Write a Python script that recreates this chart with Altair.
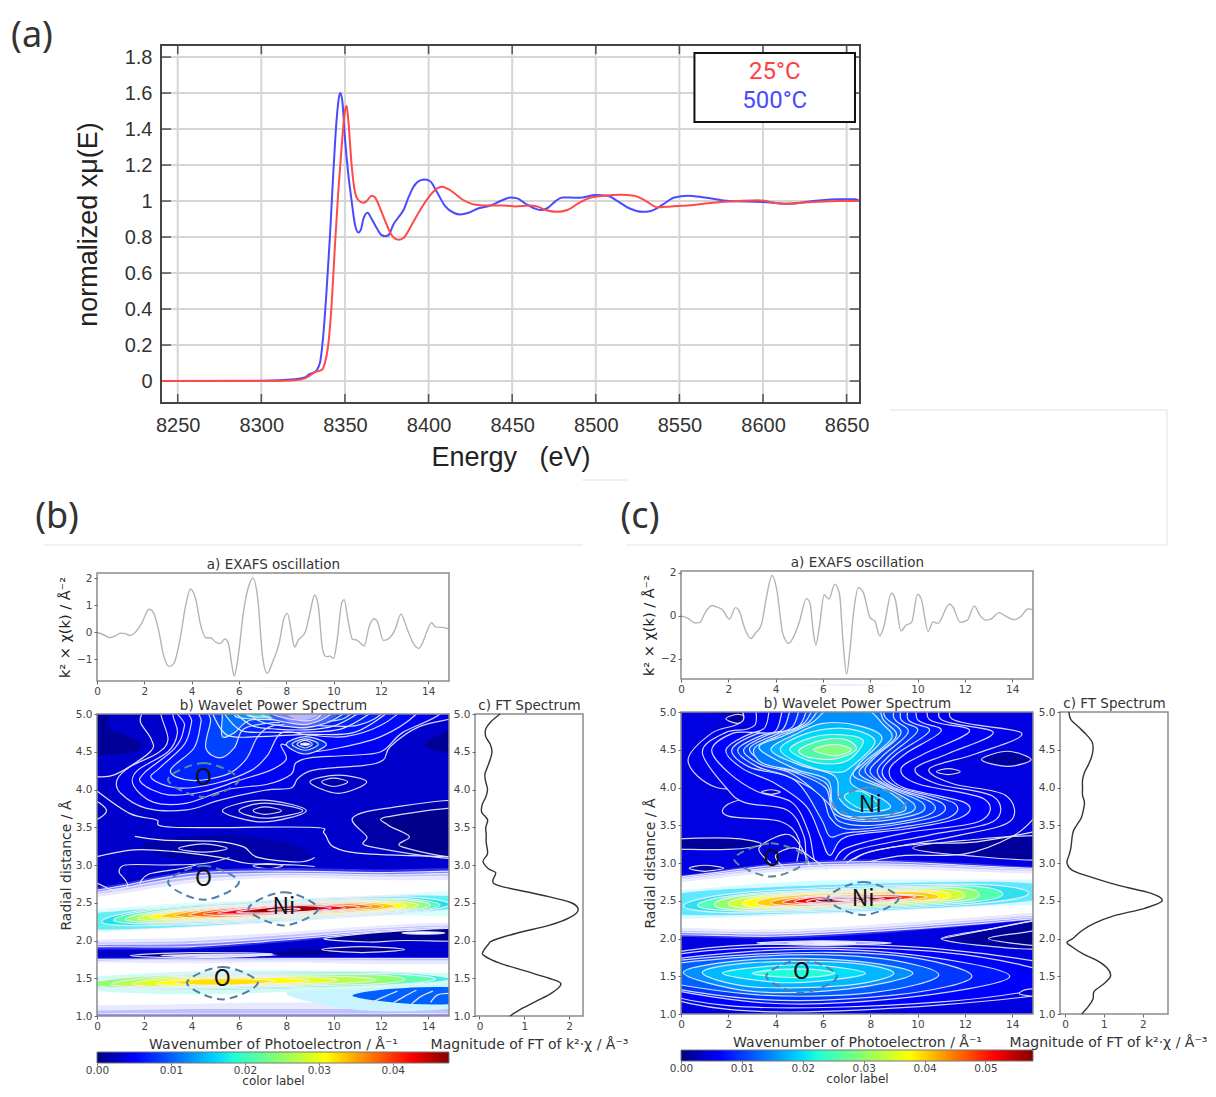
import altair as alt
import pandas as pd

W, H = 1200, 1081

# ---------- panel (a) ----------
BLUE_E = [8240,8300,8320,8326,8329,8332,8335,8337,8339,8341,8343,8345,8346.5,8347.2,8348.5,8350,8352,8354,8356,8358,8359.5,8361,8363.5,8366,8369,8372,8374,8376,8379,8382,8385,8388,8391,8395,8398,8401,8405,8410,8415,8419,8424,8430,8437,8443,8449,8453,8458,8463,8467,8471,8476,8480,8485,8490,8500,8507,8513,8520,8528,8533,8540,8547,8555,8565,8580,8600,8615,8630,8645,8655,8658]
BLUE_V = [0,0.002,0.01,0.02,0.04,0.05,0.1,0.25,0.5,0.8,1.15,1.45,1.58,1.6,1.55,1.35,1.15,1.0,0.87,0.825,0.84,0.9,0.935,0.9,0.85,0.81,0.805,0.81,0.87,0.91,0.95,1.02,1.08,1.115,1.12,1.11,1.05,0.97,0.935,0.925,0.935,0.96,0.975,1.0,1.02,1.015,0.985,0.96,0.95,0.96,1.0,1.02,1.02,1.018,1.033,1.03,1.0,0.96,0.94,0.945,0.98,1.02,1.03,1.02,1.0,0.995,0.985,1.0,1.01,1.01,1.0]
RED_E = [8240,8300,8320,8326,8329,8332,8336,8338,8340,8342,8344,8346,8348,8350,8351,8352,8354,8356,8358,8361,8363,8366,8368,8371,8374,8378,8382,8385,8390,8395,8400,8405,8408,8413,8420,8428,8436,8445,8452,8460,8465,8470,8477,8483,8490,8497,8505,8515,8523,8530,8537,8545,8555,8570,8585,8597,8612,8630,8645,8658]
RED_V = [0,0,0.005,0.015,0.03,0.05,0.06,0.1,0.2,0.42,0.75,1.05,1.3,1.5,1.53,1.45,1.2,1.05,1.005,0.99,1.0,1.03,1.02,0.96,0.89,0.81,0.785,0.795,0.87,0.95,1.02,1.07,1.08,1.06,1.01,0.98,0.975,0.975,0.97,0.975,0.97,0.95,0.94,0.95,0.99,1.02,1.03,1.035,1.03,1.0,0.965,0.97,0.975,0.99,1.0,1.005,0.985,0.995,1.0,1.0]
A_XT = [8250,8300,8350,8400,8450,8500,8550,8600,8650]
A_YT = [0,0.2,0.4,0.6,0.8,1,1.2,1.4,1.6,1.8]

# ---------- EXAFS ----------
EX_B_K = [0,0.3,0.55,0.8,1.0,1.2,1.4,1.6,1.9,2.2,2.35,2.6,2.8,3.05,3.25,3.5,3.75,3.95,4.15,4.4,4.6,4.8,5.0,5.2,5.4,5.55,5.7,5.8,5.95,6.2,6.45,6.6,6.8,7.0,7.2,7.4,7.7,7.9,8.05,8.2,8.35,8.5,8.8,9.0,9.2,9.35,9.55,9.7,9.85,10,10.15,10.35,10.45,10.6,10.8,11,11.3,11.5,11.7,11.85,12.1,12.3,12.6,12.85,13.1,13.4,13.6,13.85,14,14.15,14.3,14.6,14.88]
EX_B_V = [0,-0.1,-0.2,-0.12,-0.03,-0.05,-0.12,-0.02,0.35,0.85,0.78,0.1,-0.8,-1.27,-1.15,-0.3,1.0,1.6,1.3,0.2,-0.2,-0.2,-0.35,-0.42,-0.25,-0.4,-1.2,-1.62,-1.0,0.8,1.8,2.0,1.2,-0.9,-1.52,-1.15,-0.4,0.5,0.7,0.1,-0.55,-0.3,0,0.7,1.38,1.0,-0.7,-0.9,-0.88,-0.97,-0.3,1.1,1.2,0.5,-0.25,-0.3,-0.5,0.2,0.5,0.4,-0.3,-0.25,0.1,0.67,0.15,-0.45,-0.6,-0.2,0.15,0.35,0.2,0.18,0.12]
EX_C_K = [0,0.3,0.6,0.8,1.0,1.3,1.5,1.75,2.05,2.3,2.45,2.7,2.95,3.15,3.4,3.6,3.85,4.05,4.3,4.55,4.75,5.0,5.3,5.45,5.6,5.7,5.85,6.05,6.25,6.5,6.7,6.85,7.0,7.15,7.3,7.5,7.7,8.0,8.2,8.4,8.55,8.9,9.05,9.3,9.5,9.75,10.0,10.15,10.45,10.65,10.85,11.35,11.5,11.8,12.1,12.4,12.65,12.9,13.1,13.45,13.7,14.1,14.4,14.65,14.88]
EX_C_V = [0,-0.12,-0.33,-0.3,0.1,0.48,0.42,0.28,-0.15,0.38,0.25,-0.6,-1.05,-0.8,-0.4,0.8,1.87,1.2,-0.8,-1.27,-1.0,-0.3,0.8,0.6,-0.8,-1.35,-0.5,0.98,0.78,1.47,1.0,-1.2,-2.7,-1.5,0.2,1.3,1.1,-0.1,-0.25,-0.93,-0.6,1.05,0.8,-0.7,-0.45,-0.3,1.0,0.8,-0.72,-0.28,-0.35,0.55,0.4,-0.3,-0.2,0.45,0,-0.2,-0.15,0.15,0,-0.18,0,0.32,0.3]

# ---------- FT ----------
FT_B_R = [1.0,1.1,1.2,1.3,1.4,1.45,1.5,1.6,1.7,1.8,1.85,1.95,2.0,2.1,2.2,2.3,2.4,2.5,2.6,2.7,2.75,2.8,2.9,2.95,3.05,3.15,3.3,3.4,3.5,3.6,3.7,3.8,3.9,4.0,4.1,4.2,4.3,4.4,4.5,4.6,4.7,4.8,4.9,5.0]
FT_B_M = [0.68,0.95,1.28,1.6,1.8,1.78,1.55,1.0,0.45,0.1,0.08,0.2,0.3,0.85,1.55,2.0,2.2,2.05,1.4,0.6,0.33,0.3,0.36,0.2,0.08,0.18,0.15,0.15,0.14,0.18,0.05,0.06,0.14,0.18,0.14,0.12,0.18,0.24,0.28,0.24,0.14,0.14,0.26,0.46]
FT_C_R = [1.0,1.1,1.2,1.3,1.4,1.5,1.6,1.7,1.8,1.9,1.95,2.0,2.1,2.2,2.3,2.4,2.5,2.6,2.7,2.8,2.9,3.0,3.1,3.2,3.4,3.5,3.6,3.7,3.8,3.9,4.0,4.1,4.2,4.3,4.4,4.5,4.6,4.7,4.8,4.9,5.0]
FT_C_M = [0.43,0.6,0.72,0.75,1.0,1.17,1.1,0.85,0.45,0.15,0.05,0.2,0.42,0.75,1.25,2.05,2.5,2.2,1.4,0.75,0.2,0.05,0.1,0.15,0.2,0.3,0.42,0.47,0.5,0.45,0.45,0.45,0.5,0.6,0.68,0.72,0.7,0.55,0.35,0.15,0.1]

JET = [(0,"#000080"),(0.11,"#0000ff"),(0.34,"#00d8ff"),(0.39,"#20ffd8"),(0.5,"#7cff7a"),(0.65,"#ffff00"),(0.89,"#ff0000"),(1,"#800000")]

W_ = "#eeeeff"
N_ = "transparent"

# wide bands: fill, stroke, upper edge, lower edge on the wavenumbers of BAND_K
BAND_K = [-2.8, 0, 4, 8, 12, 15, 18]
B_BANDS = [
 ("#3030f0",N_,[1.78,1.77,1.77,1.78,1.78,1.78,1.78],[0.9,0.9,0.9,0.9,0.9,0.9,0.9]),
 ("#8080ff",W_,[1.76,1.75,1.755,1.76,1.76,1.76,1.76],[0.92,0.95,0.95,0.95,0.95,0.95,0.95]),
 ("#c0c0ff",W_,[1.74,1.73,1.74,1.745,1.74,1.74,1.74],[1.0,1.03,1.03,1.03,1.03,1.03,1.0]),
 ("#e8e8ff",W_,[1.72,1.72,1.72,1.73,1.72,1.72,1.72],[1.06,1.08,1.1,1.1,1.1,1.1,1.1]),
 ("#ffffff",N_,[1.71,1.71,1.70,1.71,1.69,1.69,1.69],[1.12,1.14,1.16,1.18,1.15,1.15,1.15]),
 ("#3030f0",N_,[2.66,2.7,2.92,2.96,2.94,2.96,2.96],[1.88,1.88,1.89,1.98,2.1,2.14,2.14]),
 ("#8080ff",W_,[2.64,2.67,2.89,2.92,2.9,2.92,2.92],[1.92,1.92,1.92,2.01,2.12,2.16,2.16]),
 ("#c0c0ff",W_,[2.62,2.64,2.85,2.89,2.87,2.89,2.89],[1.94,1.95,1.96,2.04,2.14,2.18,2.18]),
 ("#e8e8ff",W_,[2.6,2.61,2.8,2.86,2.84,2.85,2.85],[1.96,1.98,2.0,2.08,2.17,2.21,2.21]),
 ("#ffffff",N_,[2.58,2.58,2.76,2.83,2.8,2.8,2.8],[1.98,2.01,2.04,2.11,2.2,2.24,2.24]),
 ("#d8fff8",N_,[2.42,2.42,2.5,2.54,2.6,2.66,2.66],[2.1,2.11,2.2,2.3,2.33,2.32,2.32]),
]
C_BANDS = [
 ("#3030f0",N_,[2.8,2.84,3.0,3.05,3.0,2.95,2.95],[2.02,2.02,2.0,2.06,2.16,2.24,2.24]),
 ("#8080ff",W_,[2.78,2.82,2.97,3.02,2.97,2.93,2.93],[2.05,2.05,2.03,2.09,2.18,2.26,2.26]),
 ("#c0c0ff",W_,[2.76,2.8,2.94,2.99,2.95,2.91,2.91],[2.08,2.08,2.06,2.12,2.21,2.28,2.28]),
 ("#e8e8ff",W_,[2.74,2.78,2.91,2.96,2.92,2.89,2.89],[2.11,2.11,2.09,2.15,2.24,2.31,2.31]),
 ("#ffffff",N_,[2.72,2.75,2.88,2.93,2.89,2.86,2.86],[2.14,2.14,2.12,2.18,2.27,2.34,2.34]),
 ("#d0ffff",N_,[2.6,2.64,2.74,2.78,2.78,2.78,2.78],[2.26,2.26,2.3,2.35,2.42,2.44,2.44]),
]

# ---------- wavelet contours: lens = fill, stroke, kL,rL, k1,top1,bot1, k2,top2,bot2, kR,rR
B_LENS = [
 ("#c8f4ff",N_,8,1.3, 11,1.44,1.08, 15,1.48,1.1, 18,1.3),
 ("#0060ff",N_,10.8,1.27, 12.5,1.36,1.18, 15,1.38,1.16, 18,1.28),
 ("#c8fff0",N_,-2.5,1.42, 3,1.58,1.29, 11,1.6,1.36, 18,1.5),
 ("#40f0e0",W_,-2,1.41, 4,1.56,1.34, 12,1.58,1.4, 14.95,1.49),
 ("#60ffb0",W_,-1,1.41, 3,1.545,1.355, 11.5,1.565,1.4, 14.3,1.49),
 ("#90ff70",W_,-0.3,1.42, 2.5,1.53,1.37, 11,1.55,1.415, 13,1.485),
 ("#b8ff48",W_,0.6,1.42, 3,1.52,1.38, 9.5,1.53,1.42, 11.8,1.48),
 ("#e0ff20",W_,1.5,1.425, 3.5,1.51,1.385, 8.5,1.52,1.425, 10.2,1.47),
 ("#ffff00",W_,2.5,1.43, 4,1.50,1.395, 7.5,1.51,1.425, 9,1.465),
 ("#ffe000",W_,3.3,1.44, 4.4,1.49,1.41, 6.4,1.49,1.42, 7.5,1.46),
 ("#60f0f0",W_,-2,2.25, 1,2.4,2.14, 13,2.6,2.36, 17,2.5),
 ("#20e0f0",W_,0.2,2.25, 3,2.44,2.20, 12,2.58,2.34, 14.9,2.48),
 ("#50ffb0",W_,0.7,2.27, 3.4,2.44,2.22, 11.8,2.56,2.35, 14.5,2.47),
 ("#90ff70",W_,1.2,2.28, 3.8,2.43,2.24, 11.5,2.55,2.35, 14.1,2.47),
 ("#d0ff30",W_,1.7,2.29, 4.2,2.43,2.26, 11.2,2.53,2.36, 13.6,2.465),
 ("#ffff00",W_,2.2,2.31, 4.6,2.43,2.27, 10.8,2.52,2.36, 13.1,2.46),
 ("#ffd000",W_,2.7,2.32, 4.8,2.43,2.29, 10.5,2.51,2.37, 12.6,2.455),
 ("#ffa000",W_,3.3,2.33, 5.2,2.43,2.30, 10.2,2.50,2.38, 12.1,2.45),
 ("#ff7000",W_,3.9,2.34, 5.6,2.43,2.31, 9.9,2.49,2.39, 11.6,2.45),
 ("#ff4000",W_,4.5,2.35, 6.5,2.44,2.33, 9,2.48,2.37, 11.1,2.445),
 ("#ff0000",W_,5.1,2.36, 6.8,2.44,2.35, 9,2.47,2.38, 10.5,2.435),
 ("#d00000",W_,5.9,2.375, 7.2,2.435,2.365, 8.8,2.46,2.385, 9.9,2.43),
 ("#a00000",N_,6.6,2.39, 7.5,2.43,2.38, 8.6,2.45,2.39, 9.4,2.42),
 ("#7a0000",W_,7.2,2.40, 7.8,2.42,2.39, 8.2,2.43,2.40, 8.6,2.415),
]
C_LENS = [
 ("#0000e8",W_,-2.8,1.55, 2,1.9,1.06, 11,1.86,1.12, 18,1.45),
 ("#0000ff",W_,-2.8,1.55, 2,1.86,1.11, 11,1.82,1.16, 16,1.45),
 ("#0018ff",W_,-2.8,1.55, 3,1.83,1.16, 9,1.81,1.2, 13.9,1.5),
 ("#0038ff",W_,-2.8,1.55, 3,1.79,1.2, 9,1.78,1.25, 12.3,1.5),
 ("#0060ff",W_,-2,1.55, 3,1.76,1.26, 8,1.75,1.28, 10.9,1.52),
 ("#0090ff",W_,0.1,1.55, 3,1.72,1.3, 7,1.71,1.33, 9.8,1.54),
 ("#00b8ff",W_,0.9,1.55, 3,1.68,1.36, 7,1.68,1.38, 9,1.54),
 ("#00e0f8",W_,1.75,1.54, 4,1.64,1.42, 6,1.64,1.44, 7.8,1.54),
 ("#20ffd8",W_,3,1.54, 4.2,1.59,1.49, 5.6,1.59,1.49, 6.5,1.54),
 ("#60e8ff",W_,-1.2,2.43, 1,2.64,2.3, 13,2.76,2.44, 16,2.62),
 ("#30e0f0",W_,0.1,2.43, 3,2.62,2.34, 12,2.72,2.45, 14.7,2.6),
 ("#50ffb0",W_,0.7,2.44, 3.2,2.6,2.36, 11.5,2.7,2.46, 13.6,2.59),
 ("#90ff70",W_,1.4,2.45, 3.4,2.59,2.37, 11,2.68,2.47, 12.6,2.58),
 ("#d0ff30",W_,2,2.46, 3.8,2.58,2.39, 10.5,2.66,2.48, 12,2.57),
 ("#ffff00",W_,2.6,2.46, 4,2.57,2.41, 10,2.64,2.49, 11.4,2.56),
 ("#ffd000",W_,3.2,2.47, 4.5,2.565,2.42, 9.6,2.62,2.49, 10.9,2.55),
 ("#ff9000",W_,3.8,2.475, 5,2.55,2.43, 8.5,2.59,2.48, 10.4,2.55),
 ("#ff4000",W_,4.3,2.48, 5.5,2.55,2.45, 8.5,2.58,2.49, 9.9,2.55),
 ("#ff0000",W_,4.8,2.49, 5.8,2.55,2.46, 8,2.56,2.49, 9.3,2.54),
 ("#c00000",W_,5.3,2.49, 6.1,2.54,2.47, 7.8,2.55,2.5, 8.6,2.53),
 ("#8a0000",W_,5.7,2.50, 6.4,2.53,2.48, 7.4,2.54,2.50, 8,2.52),
 ("#ff9090",W_,6.4,2.51, 6.8,2.52,2.505, 7.1,2.525,2.505, 7.5,2.515),
]

# closed loops drawn before the lenses: fill, stroke, k list, r list
B_BACK = [
 ("#000098",N_,[-1,.35,.5,1.2,1.9,1.6,.5,-1],[5.2,5.2,4.82,4.72,4.6,4.5,4.46,4.45]),
 ("#000098",N_,[16,14.9,13.9,14.2,16],[4.8,4.78,4.62,4.52,4.46]),
 ("#0000a8",W_,[16,12.2,10.8,11.4,11.6,16],[3.82,3.75,3.62,3.38,3.24,3.11]),
 ("#00008c",W_,[16,12.3,12.3,13.2,12.9,16],[3.73,3.64,3.53,3.38,3.24,3.11]),
 ("#0000a8",N_,[2,5,8,9,6,3],[3.3,3.4,3.3,3.1,3.05,3.1]),
 ("#0000e4",W_,[2.7,2.7,3.0,2.55,1.4,.85,1.0,2.1,3.8,5.2,7.1,8.2,8.5,9.2,11.3,12.1,12.4,13.6,15.5,15.5],[5.3,5.0,4.66,4.48,4.3,4.13,3.95,3.75,3.73,3.86,3.99,4.02,4.15,4.26,4.32,4.39,4.57,4.83,5.0,5.3]),
 ("#0000f5",W_,[3.2,3.2,3.4,3.0,1.7,1.55,2.4,3.8,5.5,7.2,8.2,8.4,9,10.5,12,12.9,14.5,15],[5.3,5.0,4.75,4.5,4.25,4.05,3.83,3.82,4.0,4.07,4.2,4.35,4.42,4.45,4.5,4.75,5,5.3]),
 ("#0008ff",W_,[3.8,3.7,3.3,2.0,1.9,3.0,4.5,6,7.3,8.0,7.8,8.8,10.2,12,13.5,14],[5.3,4.85,4.55,4.22,4.08,3.93,3.97,4.12,4.25,4.4,4.6,4.5,4.55,4.7,5,5.3]),
 ("#0014ff",W_,[4.2,4,3.7,2.7,2.3,3.4,5,6.5,7.2,7.8,9,10.5,12,13,13],[5.3,4.9,4.6,4.3,4.15,4.02,4.08,4.25,4.45,4.75,4.72,4.7,4.85,5.1,5.3]),
 ("#0024ff",W_,[4.6,4.4,4.1,3.1,4,5.5,6.3,6.8,7.5,9,11,12.2,12.2],[5.3,4.9,4.55,4.25,4.12,4.2,4.4,4.7,4.85,4.85,4.85,5.05,5.3]),
 ("#0044ff",W_,[5,4.8,4.6,5.2,5.8,6.2,7.3,9,10.5,11],[5.3,4.9,4.55,4.42,4.55,4.8,4.88,4.9,4.95,5.3]),
 ("#0070ff",W_,[5.5,5.3,5.3,5.8,6.5,8,9.5,10],[5.3,4.95,4.7,4.75,4.92,4.92,5,5.3]),
 ("#0098ff",W_,[6,5.8,6.3,7.5,8.5,9],[5.3,5,4.94,4.93,4.96,5.3]),
 ("#20d8ff",W_,[6.3,6.3,7.2,8.2,8.5],[5.3,5.0,4.96,5.0,5.3]),
 ("#4060ff",N_,[7.2,8.7,10.2,9,8.2],[5.02,4.8,5.02,5.3,5.3]),
 ("#8088ff",N_,[7.6,8.7,9.8,9,8.2],[5.02,4.86,5.02,5.3,5.3]),
 ("#b8b8ff",N_,[8,8.7,9.4,9,8.3],[5.02,4.92,5.02,5.3,5.3]),
 ("#0034f0",W_,[8.0,8.8,9.7,8.8],[4.6,4.7,4.6,4.47]),
 ("#0028e0",W_,[8.25,8.8,9.35,8.8],[4.6,4.67,4.6,4.52]),
 ("#0020d8",W_,[8.45,8.8,9.1,8.8],[4.6,4.65,4.6,4.55]),
 ("#ffffff",W_,[8.6,8.8,9.0,8.8],[4.6,4.615,4.6,4.585]),
 ("#0000c4",W_,[9,10.2,11.4,10.2],[4.1,4.19,4.1,3.95]),
 ("#0000a8",W_,[9.5,10,10.6,10],[4.1,4.15,4.1,4.04]),
 ("#0000c4",W_,[5.3,7,8.85,7],[3.72,3.86,3.72,3.57]),
 ("#0000b4",W_,[6,7.1,8.7,7.1],[3.72,3.82,3.72,3.62]),
 ("#0000a0",W_,[6.6,7.1,7.8,7.1],[3.72,3.77,3.72,3.67]),
 ("#0000a0",W_,[3.45,4.5,5.5,4.5],[3.22,3.28,3.22,3.17]),
 ("#0000a0",W_,[6.6,7.2,7.85,7.2],[2.99,3.02,2.99,2.95]),
 ("#0000c0",W_,[-.5,-.1,.4,-.1],[3.75,3.85,3.72,3.6]),
]
B_FRONT = [
 ("#000090",W_,[1.4,4,7.6,4],[1.8,1.84,1.82,1.77]),
 ("#d8d8ff",W_,[2.7,5,7.6,5],[1.8,1.815,1.81,1.78]),
 ("#000090",N_,[7.4,8.5,10.4,8.5],[1.82,1.88,1.84,1.8]),
 ("#000090",W_,[9.5,11.2,13,11.2],[1.88,1.92,1.88,1.84]),
 ("#000090",W_,[9.6,11,13,16,16,13,11.5],[2.02,2.08,2.13,2.16,2.0,2.0,1.98]),
 ("#ffffff",W_,[12.9,13.8,14.7,13.8],[2.1,2.115,2.1,2.085]),
]
C_BACK = [
 ("#00009c",N_,[-1,1,3,4,-1],[5.2,5.0,5.0,5.3,5.3]),
 ("#00009c",W_,[1.9,2.4,2.9,2.4],[4.91,4.97,4.91,4.85]),
 ("#0000a0",W_,[12.7,13.8,14.8,13.8],[4.37,4.48,4.37,4.28]),
 ("#0000e8",W_,[.3,1.3,2.6,3.2,10.9,11.5,14.4,12.5,10.5,11.5,13.7,13.9,11.5,8,6.8,5,5,4.2,2,2,3.8,1.5],[4.35,4.72,4.88,5.3,5.3,4.9,4.72,4.45,4.25,4.05,3.9,3.55,3.35,3.15,2.95,2.9,3.3,3.55,3.62,3.78,3.98,4.0]),
 ("#0000f4",W_,[.9,1.9,3.1,3.9,10.5,11,13.2,11.3,9.9,10.8,13.2,13.2,10.5,7.5,6.6,5.4,5.2,4.5,2.7,1.9],[4.47,4.73,4.82,5.3,5.3,4.9,4.73,4.45,4.25,4.05,3.88,3.55,3.37,3.18,2.98,2.95,3.35,3.7,3.8,4.0]),
 ("#0000ff",W_,[1.3,2.2,3.5,4.5,10,10.5,12.2,10.3,9.3,10,12.8,12.6,9.5,7,6.4,5.7,5.4,4.7,3.2,2],[4.5,4.72,4.78,5.3,5.3,4.9,4.75,4.45,4.25,4.05,3.85,3.55,3.4,3.2,3.0,3.0,3.4,3.8,3.95,4.2]),
 ("#0018ff",W_,[1.9,3,4,5,9.5,10,11,9.5,8.8,9.4,12,11.8,9.5,7,6.3,5.9,5.3,4,2.6],[4.5,4.72,4.75,5.3,5.3,4.9,4.75,4.45,4.22,4.0,3.8,3.6,3.45,3.35,3.1,3.35,3.75,4.05,4.25]),
 ("#0028ff",W_,[2.15,3.2,4.3,5.3,9.3,9.6,10.5,9.1,8.5,9.2,11.5,11.3,9,7,6.3,5.9,4.8,2.9],[4.5,4.71,4.77,5.3,5.3,4.9,4.75,4.44,4.2,4.0,3.8,3.6,3.46,3.4,3.35,3.6,4.1,4.27]),
 ("#0038ff",W_,[2.4,3.5,4.7,5.6,9,9.3,10,8.8,8.3,9,11,10.8,8.5,7,6.3,5.9,4.5,3.2],[4.5,4.7,4.8,5.3,5.3,4.9,4.75,4.42,4.2,4.0,3.8,3.62,3.48,3.45,3.6,3.9,4.15,4.28]),
 ("#0048ff",W_,[2.65,3.7,5,5.9,8.8,9,9.6,8.5,8,8.9,10.6,10.4,8.2,6.7,6.2,4.7,3.4],[4.5,4.7,4.82,5.3,5.3,4.92,4.73,4.41,4.2,4.0,3.8,3.63,3.5,3.55,3.8,4.18,4.3]),
 ("#0060ff",W_,[2.9,4,5.2,6.2,8.5,8.6,9.3,8.2,7.8,8.8,10.2,10,8,6.5,6.1,4.8,3.6],[4.52,4.7,4.85,5.3,5.3,4.95,4.72,4.4,4.2,4.0,3.8,3.65,3.55,3.65,4.0,4.2,4.32]),
 ("#0078ff",W_,[3.1,4.15,5.35,6.35,8.1,8.55,9.1,8,7.55,8.7,9.85,9.5,7.5,6.45,6.15,4.8,3.45],[4.52,4.69,4.85,5.2,5.2,4.9,4.68,4.37,4.17,3.99,3.78,3.65,3.58,3.72,4.05,4.22,4.32]),
 ("#0090ff",W_,[3.3,4.3,5.5,6.5,7.8,8.5,8.9,7.8,7.3,8.6,9.5,9,7,6.4,6.2,4.8],[4.52,4.68,4.85,5.1,5.05,4.85,4.65,4.35,4.15,3.98,3.75,3.65,3.62,3.8,4.1,4.25]),
 ("#00b8ff",W_,[3.8,4.8,6,7.5,8.5,7.5,7.2,8.5,8.8,7.5,6.7,6.5,5],[4.5,4.7,4.85,4.82,4.65,4.3,4.05,3.85,3.72,3.68,3.85,4.15,4.3]),
 ("#00d8f8",W_,[4.2,5,6.3,7.5,8.2,7.3,6.6,5.2],[4.5,4.68,4.78,4.75,4.6,4.3,4.2,4.3]),
 ("#00d0f8",W_,[6.9,7.6,8.4,7.6],[3.88,3.95,3.76,3.72]),
 ("#20f0d8",W_,[4.6,5.5,6.7,7.7,7,5.7],[4.5,4.66,4.7,4.62,4.35,4.33]),
 ("#50f8a8",W_,[5,6,7,7.4,6.5,5.4],[4.5,4.63,4.63,4.5,4.38,4.4]),
 ("#80ff80",W_,[5.6,6.5,7.2,6.5],[4.5,4.57,4.5,4.42]),
 ("#0000c8",W_,[10.8,11.3,11.8,11.3],[4.21,4.25,4.21,4.17]),
 ("#0000c8",W_,[3.4,3.8,4.2,3.8],[3.94,3.97,3.94,3.91]),
 ("#00009c",W_,[-1,2,3.4,2,-1],[3.3,3.33,3.25,3.18,3.2]),
 ("#00009c",W_,[9.8,12,15.5,15.5,12],[3.2,3.3,3.35,3.05,3.1]),
 ("#00009c",W_,[.35,1,1.8,1],[2.93,2.97,2.93,2.89]),
]
C_FRONT = [
 ("#a8a8ff",W_,[3.2,6,8.9,6],[1.94,1.97,1.94,1.91]),
 ("#d8d8ff",W_,[4.5,6,7.4,6],[1.94,1.96,1.94,1.92]),
 ("#ffffff",W_,[5.6,6.4,7.4,6.4],[1.94,1.95,1.94,1.93]),
 ("#00009c",W_,[11,13,15.5,15.5,13],[2.0,2.12,2.24,1.88,1.9]),
 ("#000088",W_,[13,14.5,16,16,14.5],[2.0,2.08,2.14,1.9,1.92]),
 ("#0000d0",W_,[14.3,14.7,16,16,14.7],[1.27,1.33,1.33,1.22,1.24]),
]

# open contour lines: k list, r list
B_LINES = [
 ([0,.85,2.25,2.3,1.85,1.9],[4.17,4.21,4.5,4.66,4.88,5.0]),
 ([0,1.4,2.5,3.2,9,9.6,10,11.3,15],[3.98,3.68,3.6,3.5,3.5,3.42,3.24,3.15,3.11]),
 ([0,1.55,3.2,5.2,6.4,8.4,9.2],[3.11,3.2,3.18,3.1,3.02,3.0,2.98]),
 ([1.6,2.8,5.1,6.2,6.8,8.5,9.2],[3.38,3.33,3.31,3.24,3.1,3.04,3.1]),
 ([.95,1.2,3,4.5,5.6],[2.89,3.0,3.0,3.02,3.1]),
 ([.95,1.3,.6],[2.89,2.72,2.66]),
 ([1.8,2.2,3.5,4.2],[2.75,2.88,2.95,3.0]),
 ([0,.4,.8],[2.76,2.7,2.64]),
 ([4.9,5.5,6.8,8.8,10.8,12.2],[5,4.72,4.7,4.73,4.75,5.0]),
 ([5.4,6.1,7.3,8.8,10.3,11.5],[5,4.78,4.76,4.76,4.8,5.0]),
 ([5.9,6.6,7.6,8.8,10,11],[5,4.84,4.8,4.79,4.84,5]),
 ([6.4,7,7.9,8.8,9.7,10.4],[5,4.89,4.84,4.82,4.88,5]),
 ([6.9,7.4,8.2,8.8,9.4,9.9],[5,4.93,4.88,4.86,4.91,5]),
 ([7.4,7.9,8.8,9.2,9.5],[5,4.95,4.91,4.93,5]),
 ([11.6,12.1,12.7],[1.18,1.25,1.33]),
 ([12.5,13,13.5],[1.17,1.26,1.34]),
 ([13.3,13.7,14.2],[1.16,1.26,1.33]),
 ([14.1,14.4,14.88],[1.18,1.28,1.3]),
]
C_LINES = [
 ([11,13,15],[2.0,2.12,2.24]),
 ([3.8,3.3,4.4,5,5.5],[3.0,3.2,3.38,3.25,2.92]),
 ([4.4,4,4.8,5.6,6.2],[2.92,3.1,3.2,3.05,2.9]),
 ([7,8,10,12.5,15],[3.0,3.15,3.25,3.28,3.42]),
 ([8,9.5,12,14,15],[3.02,3.1,3.12,3.35,3.62]),
]
B_ELL = [([3,4.5,6,4.5],[4.13,4.35,4.13,3.9],"#5f8a98"),([3,4.5,6,4.5],[2.77,2.99,2.77,2.54],"#4f7fa8"),([6.4,7.9,9.35,7.9],[2.42,2.64,2.42,2.2],"#4f7fa8"),([3.8,5.3,6.8,5.3],[1.44,1.65,1.44,1.22],"#4f7fa8")]
C_ELL = [([2.25,3.8,5.35,3.8],[3.05,3.26,3.05,2.82],"#5f8a98"),([6.4,8,9.5,8],[3.79,4.0,3.79,3.57],"#6f8aa0"),([6.2,7.7,9.2,7.7],[2.53,2.75,2.53,2.31],"#4f7fa8"),([3.6,5.1,6.6,5.1],[1.5,1.72,1.5,1.28],"#4f7fa8")]
B_TXT = [(4.5,4.15,"O"),(4.5,2.81,"O"),(7.9,2.45,"Ni"),(5.3,1.49,"O")]
C_TXT = [(3.85,3.05,"O"),(8,3.77,"Ni"),(7.7,2.52,"Ni"),(5.1,1.55,"O")]


def px(v):
    return v - 8


def X(f, dom, rng, **kw):
    return alt.X(f, scale=alt.Scale(domain=dom, range=[px(rng[0]), px(rng[1])], clamp=False), **kw)


def Y(f, dom, rng, **kw):
    return alt.Y(f, scale=alt.Scale(domain=dom, range=[px(rng[1]), px(rng[0])], clamp=False), **kw)


def xaxis(vals, ybottom, size=10.5, title=None, color="#444", **kw):
    return alt.Axis(values=vals, orient="bottom", offset=px(ybottom) - H, domain=False, grid=False, tickSize=kw.pop("tickSize", 3), tickColor="#666",
                    labelFontSize=size, labelColor=color, labelFont=kw.pop("labelFont", "DejaVu Sans"), title=title, zindex=1, labelFlush=False, labelOverlap=False, **kw)


def yaxis(vals, xleft, size=10.5, title=None, color="#444", **kw):
    return alt.Axis(values=vals, orient="left", offset=-px(xleft), domain=False, grid=False, tickSize=kw.pop("tickSize", 3), tickColor="#666",
                    labelFontSize=size, labelColor=color, labelFont=kw.pop("labelFont", "DejaVu Sans"), title=title, zindex=1, labelFlush=False, labelOverlap=False, **kw)


layers = []

# -------- faint page lines --------
for x0, x1, y0, y1 in [(44, 583, 545, 545), (627, 1167, 545, 545), (890, 1167, 410, 410), (1167, 1167, 410, 545), (582, 627, 480, 480)]:
    layers.append(alt.Chart(pd.DataFrame({"a": [0]})).mark_rule(color="#e2e2e2", strokeWidth=1).encode(
        x=alt.value(px(x0)), x2=alt.value(px(x1)), y=alt.value(px(y0)), y2=alt.value(px(y1))))

# -------- panel a --------
AX = [8240, 8658]
AY = [-0.122, 1.867]
AXR = (161, 860)
AYR = (45, 403)
layers.append(alt.Chart(pd.DataFrame({"e": A_XT, "a": AY[0], "b": AY[1]})).mark_rule(color="#d6d6d6", strokeWidth=2).encode(
    x=X("e:Q", AX, AXR, axis=xaxis(A_XT, 403, size=20, labelFont="Liberation Sans", tickSize=0, labelPadding=12, color="#333", format="d", title="Energy\u00a0\u00a0\u00a0(eV)", titleFontSize=27, titleFont="Liberation Sans", titleFontWeight="normal", titleColor="#222", titlePadding=9)),
    y=Y("a:Q", AY, AYR, axis=None), y2="b:Q"))
layers.append(alt.Chart(pd.DataFrame({"v": A_YT, "a": AX[0], "b": AX[1]})).mark_rule(color="#d6d6d6", strokeWidth=2).encode(
    x=X("a:Q", AX, AXR, axis=None), x2="b:Q",
    y=Y("v:Q", AY, AYR, axis=yaxis(A_YT, 161, size=20, labelFont="Liberation Sans", tickSize=0, labelPadding=9, color="#333", title="normalized xμ(E)", titleFontSize=27, titleFont="Liberation Sans", titleFontWeight="normal", titleColor="#222", titlePadding=22,
                                   labelExpr="datum.value==0?'0':datum.value==1?'1':format(datum.value,'.1f')"))))
ticks_x = pd.DataFrame({"e": A_XT * 2, "a": [AY[0]] * 9 + [AY[1]] * 9, "b": [AY[0] + 0.05] * 9 + [AY[1] - 0.05] * 9})
layers.append(alt.Chart(ticks_x).mark_rule(color="#555", strokeWidth=1.5).encode(x=X("e:Q", AX, AXR, axis=None), y=Y("a:Q", AY, AYR, axis=None), y2="b:Q"))
ticks_y = pd.DataFrame({"v": A_YT * 2, "a": [AX[0]] * 10 + [AX[1]] * 10, "b": [AX[0] + 6] * 10 + [AX[1] - 6] * 10})
layers.append(alt.Chart(ticks_y).mark_rule(color="#555", strokeWidth=1.5).encode(y=Y("v:Q", AY, AYR, axis=None), x=X("a:Q", AX, AXR, axis=None), x2="b:Q"))
for e, v, c in [(BLUE_E, BLUE_V, "#4a4aff"), (RED_E, RED_V, "#ff4a4a")]:
    layers.append(alt.Chart(pd.DataFrame({"e": e, "v": v})).mark_line(color=c, strokeWidth=2, interpolate="monotone").encode(
        x=X("e:Q", AX, AXR, axis=None), y=Y("v:Q", AY, AYR, axis=None)))


def frame(xd, yd, xr, yr, color="#8c8c8c", width=2):
    d = pd.DataFrame({"a": [xd[0]], "b": [xd[1]], "c": [yd[0]], "d": [yd[1]]})
    return alt.Chart(d).mark_rect(fill="transparent", stroke=color, strokeWidth=width).encode(
        x=X("a:Q", xd, xr, axis=None), x2="b:Q", y=Y("c:Q", yd, yr, axis=None), y2="d:Q")


layers.append(frame(AX, AY, AXR, AYR, "#444", 2))
box = pd.DataFrame({"a": [8559], "b": [8655], "c": [1.439], "d": [1.822]})
layers.append(alt.Chart(box).mark_rect(fill="white", stroke="#111", strokeWidth=2).encode(
    x=X("a:Q", AX, AXR, axis=None), x2="b:Q", y=Y("c:Q", AY, AYR, axis=None), y2="d:Q"))
leg = pd.DataFrame({"e": [8607, 8607], "v": [1.715, 1.555], "t": ["25°C", "500°C"], "c": ["#ff4040", "#4a4aff"]})
layers.append(alt.Chart(leg).mark_text(fontSize=24, font="Roboto").encode(
    x=X("e:Q", AX, AXR, axis=None), y=Y("v:Q", AY, AYR, axis=None), text="t:N", color=alt.Color("c:N", scale=None)))


def lens_loop(t):
    c, s, kL, rL, k1, t1, b1, k2, t2, b2, kR, rR = t
    return (c, s, [kL, k1, k2, kR, k2, k1], [rL, t1, t2, rR, b2, b1])


def band_loop(t):
    c, s, up, lo = t
    return (c, s, BAND_K + BAND_K[::-1], up + lo[::-1])


def loops_frame(loops):
    rows = []
    for n, (c, s, ks, rs) in enumerate(loops):
        for i, (k, r) in enumerate(zip(ks, rs)):
            rows.append({"id": n, "i": i, "k": k, "r": r, "f": c, "s": s})
    return pd.DataFrame(rows)


TITLE = dict(titleFont="DejaVu Sans", titleFontWeight="normal", titleColor="#333")


def heat_panel(left, top, cmax, base_col, bands, lens, back, front, lines, ell, txt, cb_ticks, exk, exv, ey_dom, ey_ticks, ftr, ftm, ft_dom, extop, exbot, ftleft, ft_title_x):
    right = left + 352
    bottom = top + 302
    KD = [0, 14.88]
    RD = [1.0, 5.0]
    XR = (left, right)
    YR = (top, bottom)
    out = []
    # EXAFS
    EYR = (extop, exbot)
    kt = [0, 2, 4, 6, 8, 10, 12, 14]
    out.append(alt.Chart(pd.DataFrame({"k": exk, "v": exv})).mark_line(color="#b4b4b4", strokeWidth=1.4, interpolate="monotone").encode(
        x=X("k:Q", KD, XR, axis=xaxis(kt, exbot)),
        y=Y("v:Q", ey_dom, EYR, axis=yaxis(ey_ticks, left, title="k² × χ(k) / Å⁻²", titleFontSize=14.5, titlePadding=4, titleFont="DejaVu Sans", titleFontWeight="normal", titleColor="#222", labelExpr="replace(format(datum.value,'d'),'-','−')"))))
    fr = pd.DataFrame({"a": [KD[0]], "b": [KD[1]], "c": [ey_dom[0]], "d": [ey_dom[1]]})
    out.append(alt.Chart(fr).mark_rect(fill="transparent", stroke="#8c8c8c", strokeWidth=1.5).encode(
        x=alt.X("a:Q", scale=alt.Scale(domain=KD, range=[px(left), px(right)]), axis=alt.Axis(orient="top", offset=-px(extop), labels=False, ticks=False, domain=False, grid=False, title="a) EXAFS oscillation", titleFontSize=13.5, titlePadding=2, zindex=1, **TITLE)),
        x2="b:Q", y=Y("c:Q", ey_dom, EYR, axis=None), y2="d:Q"))
    # heat base
    base = pd.DataFrame({"a": [KD[0]], "b": [KD[1]], "c": [RD[0]], "d": [RD[1]]})
    out.append(alt.Chart(base).mark_rect(fill=base_col).encode(
        x=X("a:Q", KD, XR, axis=None), x2="b:Q", y=Y("c:Q", RD, YR, axis=None), y2="d:Q"))
    allloops = back + [band_loop(t) for t in bands] + [lens_loop(t) for t in lens] + front
    out.append(alt.Chart(loops_frame(allloops)).mark_line(interpolate="cardinal-closed", strokeWidth=1.2, strokeOpacity=0.9).encode(
        x=X("k:Q", KD, XR, axis=None), y=Y("r:Q", RD, YR, axis=None), order="i:Q", detail="id:N",
        fill=alt.Fill("f:N", scale=None), stroke=alt.Stroke("s:N", scale=None)))
    rows = [{"id": n, "i": i, "k": k, "r": r} for n, (ks, rs) in enumerate(lines) for i, (k, r) in enumerate(zip(ks, rs))]
    out.append(alt.Chart(pd.DataFrame(rows)).mark_line(interpolate="cardinal", strokeWidth=1.2, color="#e4e4f4").encode(
        x=X("k:Q", KD, XR, axis=None), y=Y("r:Q", RD, YR, axis=None), order="i:Q", detail="id:N"))
    # masks: everything outside the frame is painted out
    masks = pd.DataFrame({"a": [-3.5, 14.88, -3.5, -3.5], "b": [0, 18.8, 18.8, 18.8], "c": [0.7, 0.7, 5.0, 0.7], "d": [5.35, 5.35, 5.35, 1.0]})
    out.append(alt.Chart(masks).mark_rect(fill="white").encode(
        x=X("a:Q", KD, XR, axis=None), x2="b:Q", y=Y("c:Q", RD, YR, axis=None), y2="d:Q"))
    # ellipses and labels
    rows = [{"id": n, "i": i, "k": k, "r": r, "s": c} for n, (ks, rs, c) in enumerate(ell) for i, (k, r) in enumerate(zip(ks, rs))]
    out.append(alt.Chart(pd.DataFrame(rows)).mark_line(interpolate="cardinal-closed", strokeWidth=2, strokeDash=[8, 5], fill="transparent").encode(
        x=X("k:Q", KD, XR, axis=None), y=Y("r:Q", RD, YR, axis=None), order="i:Q", detail="id:N", stroke=alt.Stroke("s:N", scale=None)))
    out.append(alt.Chart(pd.DataFrame(txt, columns=["k", "r", "t"])).mark_text(fontSize=23, font="Noto Sans CJK JP", color="#111").encode(
        x=X("k:Q", KD, XR, axis=None), y=Y("r:Q", RD, YR, axis=None), text="t:N"))
    rt = [1.0, 1.5, 2.0, 2.5, 3.0, 3.5, 4.0, 4.5, 5.0]
    out.append(alt.Chart(base).mark_rect(fill="transparent", stroke="#8c8c8c", strokeWidth=1.5).encode(
        x=X("a:Q", KD, XR, axis=xaxis(kt, bottom, title="Wavenumber of Photoelectron / Å⁻¹", titleFontSize=14, titlePadding=6, **TITLE)),
        x2="b:Q",
        y=alt.Y("c:Q", scale=alt.Scale(domain=RD, range=[px(bottom), px(top)]), axis=yaxis(rt, left, title="Radial distance / Å", titleFontSize=14, titlePadding=2, format=".1f", **TITLE)),
        y2="d:Q"))
    out.append(alt.Chart(pd.DataFrame({"a": [0.0]})).mark_point(opacity=0).encode(
        x=alt.X("a:Q", scale=alt.Scale(domain=KD, range=[px(left), px(right)]), axis=alt.Axis(orient="top", offset=-px(top), labels=False, ticks=False, domain=False, grid=False, title="b) Wavelet Power Spectrum", titleFontSize=13.5, titlePadding=2, zindex=1, **TITLE)),
        y=alt.value(px(top))))
    # FT panel
    FXR = (ftleft, ftleft + 108)
    ftbg = pd.DataFrame({"a": [ft_dom[0]], "b": [ft_dom[1]], "c": [RD[0]], "d": [RD[1]]})
    out.append(alt.Chart(ftbg).mark_rect(fill="white", stroke="#8c8c8c", strokeWidth=1.5).encode(
        x=alt.X("a:Q", scale=alt.Scale(domain=ft_dom, range=[px(FXR[0]), px(FXR[1])]), axis=alt.Axis(orient="top", offset=-px(top), labels=False, ticks=False, domain=False, grid=False, title="c) FT Spectrum", titleFontSize=13.5, titlePadding=2, zindex=1, **TITLE)),
        x2="b:Q", y=Y("c:Q", RD, YR, axis=yaxis(rt, ftleft, format=".1f")), y2="d:Q"))
    fd = pd.DataFrame({"r": ftr, "m": ftm, "i": list(range(len(ftr)))})
    out.append(alt.Chart(fd).mark_line(color="#333", strokeWidth=1.4, interpolate="cardinal").encode(
        x=X("m:Q", ft_dom, FXR, axis=xaxis([0, 1, 2], bottom, title="Magnitude of FT of k²·χ / Å⁻³", titleFontSize=14, titlePadding=6, titleX=px(ft_title_x), **TITLE)),
        y=Y("r:Q", RD, YR, axis=None), order="i:Q"))
    # colour bar
    CB_D = [0, cmax]
    cy = (1052 - (714 - top), 1063 - (714 - top))
    grad = alt.Gradient(gradient="linear", x1=0, x2=1, y1=0, y2=0, stops=[alt.GradientStop(offset=o, color=c) for o, c in JET])
    cb = pd.DataFrame({"a": [0.0], "b": [cmax], "c": [0], "d": [1]})
    out.append(alt.Chart(cb).mark_rect(fill=grad, stroke="#777", strokeWidth=1).encode(
        x=X("a:Q", CB_D, XR, axis=xaxis(cb_ticks, cy[1], title="color label", format=".2f", titleFontSize=12, titlePadding=0, tickSize=2, labelPadding=0, **TITLE)),
        x2="b:Q", y=Y("c:Q", [0, 1], cy, axis=None), y2="d:Q"))
    return out


layers += heat_panel(97, 714, 0.0476, "#0000cc", B_BANDS, B_LENS, B_BACK, B_FRONT, B_LINES, B_ELL, B_TXT, [0, 0.01, 0.02, 0.03, 0.04],
                     EX_B_K, EX_B_V, [-1.80, 2.19], [-1, 0, 1, 2], FT_B_R, FT_B_M, [-0.1, 2.31], 573, 681, 475, 529)
layers += heat_panel(681, 712, 0.0578, "#0000e0", C_BANDS, C_LENS, C_BACK, C_FRONT, C_LINES, C_ELL, C_TXT, [0, 0.01, 0.02, 0.03, 0.04, 0.05],
                     EX_C_K, EX_C_V, [-2.93, 2.08], [-2, 0, 2], FT_C_R, FT_C_M, [-0.13, 2.65], 571, 679, 1060, 1108)

for t, x, y in [("(a)", 32, 36), ("(b)", 57, 517), ("(c)", 640, 517)]:
    layers.append(alt.Chart(pd.DataFrame({"t": [t]})).mark_text(fontSize=36, font="Noto Sans", color="#333", align="center", baseline="middle").encode(
        text="t:N", x=alt.value(px(x)), y=alt.value(px(y))))

chart = alt.layer(*layers).resolve_scale(x="independent", y="independent").properties(
    width=W, height=H, padding=0, autosize=alt.AutoSizeParams(type="none")
).configure_view(stroke=None)
chart.save("out.html", embed_options={"renderer": "svg", "actions": False})
